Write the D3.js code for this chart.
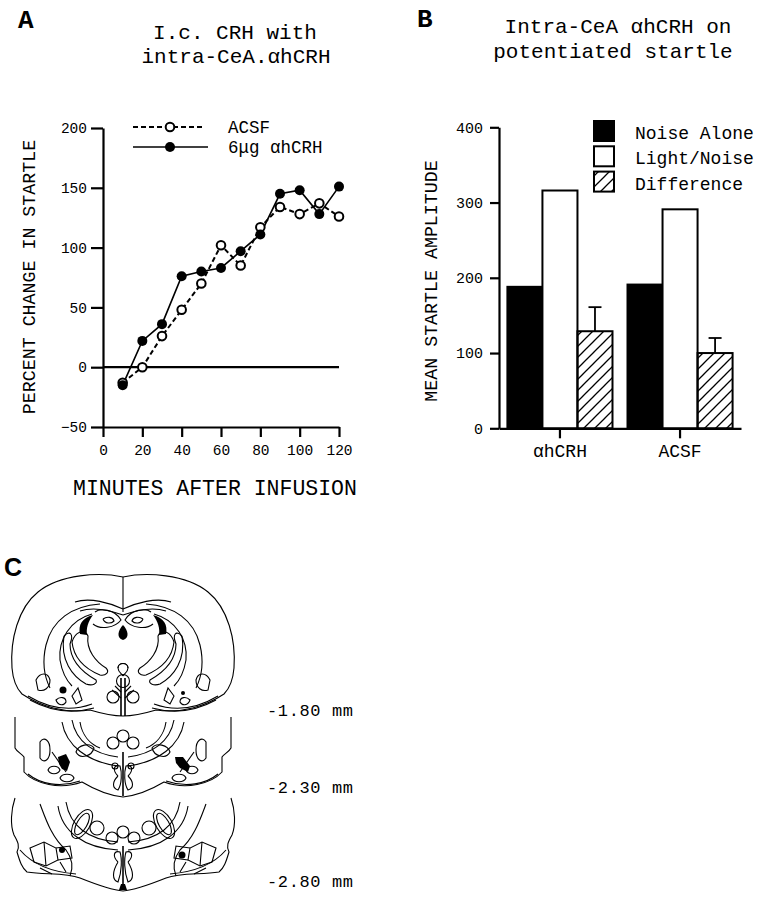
<!DOCTYPE html>
<html>
<head>
<meta charset="utf-8">
<script src="https://cdn.jsdelivr.net/npm/d3@7"></script>
<style>
  body { margin: 0; background: #fff; }
  svg text { font-family: "Liberation Mono", "Courier New", monospace; fill: #000; }
</style>
</head>
<body>
<div id="svgcontainer"></div>
<script>
// ---------- panel A data ----------
const minutes = [10, 20, 30, 40, 50, 60, 70, 80, 90, 100, 110, 120]
const acsf = [-13, 0, 26, 48, 70, 102, 85, 117, 134, 128, 137, 126]
const crh = [-15, 22, 36, 76, 80, 83, 97, 111, 145, 148, 128, 151]
const xTicksA = [0, 20, 40, 60, 80, 100, 120]
const yTicksA = [-50, 0, 50, 100, 150, 200]

// ---------- panel B data ----------
const groups = ['αhCRH', 'ACSF']
const seriesNames = ['Noise Alone', 'Light/Noise', 'Difference']
const noiseAlone = [188, 191]
const lightNoise = [316, 291]
const difference = [129, 100]
const differenceErr = [32, 20]
const yTicksB = [0, 100, 200, 300, 400]

// ---------- panel C labels ----------
const depths = ['-1.80 mm', '-2.30 mm', '-2.80 mm']

const width = 763, height = 899

const svg = d3.select('#svgcontainer')
    .append('svg')
    .attr('width', width)
    .attr('height', height)

// hatch pattern for the difference bars
svg.append('defs').append('pattern')
    .attr('id', 'hatch')
    .attr('patternUnits', 'userSpaceOnUse')
    .attr('width', 11)
    .attr('height', 11)
    .append('path')
    .attr('d', 'M-3,3 L3,-3 M0,11 L11,0 M8,14 L14,8')
    .attr('stroke', '#000')
    .attr('stroke-width', 1.3)

function styleAxis(g, fontSize) {
    g.select('.domain').attr('stroke', '#000').attr('stroke-width', 2.2)
    g.selectAll('.tick line').attr('stroke', '#000').attr('stroke-width', 2.2)
    g.selectAll('.tick text')
        .style('font-family', '"Liberation Mono", monospace')
        .style('font-size', fontSize + 'px')
        .attr('fill', '#000')
}

/*------------------------------------------------------------------------
 *                           Panel A - line chart
 *------------------------------------------------------------------------*/
const xA = d3.scaleLinear().domain([0, 120]).range([103, 339])
const yA = d3.scaleLinear().domain([-50, 200]).range([427, 128])

const gA = svg.append('g').attr('id', 'panelA')

gA.append('text').attr('x', 18).attr('y', 28)
    .style('font-size', '26px').style('font-weight', 'bold').text('A')

gA.append('text').attr('x', 235).attr('y', 39).attr('text-anchor', 'middle')
    .style('font-size', '21px').text('I.c. CRH with')
gA.append('text').attr('x', 236).attr('y', 63).attr('text-anchor', 'middle')
    .style('font-size', '21px').text('intra-CeA.αhCRH')

gA.append('g')
    .attr('transform', 'translate(0,' + yA(-50) + ')')
    .call(d3.axisBottom(xA).tickValues(xTicksA).tickSize(10).tickPadding(8).tickSizeOuter(0))
    .call(g => styleAxis(g, 14.5))

gA.append('g')
    .attr('transform', 'translate(' + xA(0) + ',0)')
    .call(d3.axisLeft(yA).tickValues(yTicksA).tickSize(12).tickPadding(4).tickSizeOuter(0))
    .call(g => styleAxis(g, 14.5))

// zero reference line
gA.append('line')
    .attr('x1', xA(0)).attr('x2', xA(120))
    .attr('y1', yA(0)).attr('y2', yA(0))
    .attr('stroke', '#000').attr('stroke-width', 2.2)

gA.append('text').attr('x', 215).attr('y', 495).attr('text-anchor', 'middle')
    .style('font-size', '21.5px').text('MINUTES AFTER INFUSION')

gA.append('text')
    .attr('transform', 'translate(35,277) rotate(-90)')
    .attr('text-anchor', 'middle')
    .style('font-size', '18.3px').text('PERCENT CHANGE IN STARTLE')

const lineA = d3.line().x((d, i) => xA(minutes[i])).y(d => yA(d))

gA.append('path').datum(acsf)
    .attr('d', lineA).attr('fill', 'none')
    .attr('stroke', '#000').attr('stroke-width', 2).attr('stroke-dasharray', '5,3')
gA.append('path').datum(crh)
    .attr('d', lineA).attr('fill', 'none')
    .attr('stroke', '#000').attr('stroke-width', 1.6)

gA.selectAll('.acsf').data(acsf).enter().append('circle')
    .attr('cx', (d, i) => xA(minutes[i])).attr('cy', d => yA(d)).attr('r', 4.3)
    .attr('fill', '#fff').attr('stroke', '#000').attr('stroke-width', 2)
gA.selectAll('.crh').data(crh).enter().append('circle')
    .attr('cx', (d, i) => xA(minutes[i])).attr('cy', d => yA(d)).attr('r', 5)
    .attr('fill', '#000')

// legend A
const legA = gA.append('g')
legA.append('line').attr('x1', 133).attr('x2', 203).attr('y1', 127).attr('y2', 127)
    .attr('stroke', '#000').attr('stroke-width', 2).attr('stroke-dasharray', '5,3')
legA.append('circle').attr('cx', 170).attr('cy', 127).attr('r', 4.3)
    .attr('fill', '#fff').attr('stroke', '#000').attr('stroke-width', 2)
legA.append('line').attr('x1', 133).attr('x2', 208).attr('y1', 147).attr('y2', 147)
    .attr('stroke', '#000').attr('stroke-width', 1.6)
legA.append('circle').attr('cx', 170).attr('cy', 147).attr('r', 5).attr('fill', '#000')
legA.append('text').attr('x', 228).attr('y', 133).style('font-size', '17.5px').text('ACSF')
legA.append('text').attr('x', 228).attr('y', 153).style('font-size', '17.5px')
    .attr('xml:space', 'preserve').text('6μg αhCRH')

/*------------------------------------------------------------------------
 *                           Panel B - bar chart
 *------------------------------------------------------------------------*/
const xB = d3.scaleBand().domain(groups).range([499, 741]).paddingInner(0.125).paddingOuter(0.07)
const xSub = d3.scaleBand().domain(seriesNames).range([0, xB.bandwidth()])
const yB = d3.scaleLinear().domain([0, 400]).range([428.3, 127.3])

const gB = svg.append('g').attr('id', 'panelB')

gB.append('text').attr('x', 417).attr('y', 27)
    .style('font-size', '26px').style('font-weight', 'bold').text('B')

gB.append('text').attr('x', 618).attr('y', 33).attr('text-anchor', 'middle')
    .style('font-size', '21px').text('Intra-CeA αhCRH on')
gB.append('text').attr('x', 613).attr('y', 58).attr('text-anchor', 'middle')
    .style('font-size', '21px').text('potentiated startle')

const barRows = []
groups.forEach((g, i) => {
    barRows.push({ group: g, series: seriesNames[0], value: noiseAlone[i], fill: '#000' })
    barRows.push({ group: g, series: seriesNames[1], value: lightNoise[i], fill: '#fff' })
    barRows.push({ group: g, series: seriesNames[2], value: difference[i], fill: 'url(#hatch)', err: differenceErr[i] })
})

// error bars (drawn behind the bars)
barRows.filter(d => d.err).forEach(d => {
    const cx = xB(d.group) + xSub(d.series) + xSub.bandwidth() / 2
    gB.append('line').attr('x1', cx).attr('x2', cx)
        .attr('y1', yB(d.value)).attr('y2', yB(d.value + d.err))
        .attr('stroke', '#000').attr('stroke-width', 1.8)
    gB.append('line').attr('x1', cx - 6.5).attr('x2', cx + 6.5)
        .attr('y1', yB(d.value + d.err)).attr('y2', yB(d.value + d.err))
        .attr('stroke', '#000').attr('stroke-width', 1.8)
})

gB.selectAll('rect.bar').data(barRows).enter().append('rect')
    .attr('class', 'bar')
    .attr('x', d => xB(d.group) + xSub(d.series))
    .attr('y', d => yB(d.value))
    .attr('width', xSub.bandwidth())
    .attr('height', d => yB(0) - yB(d.value))
    .attr('fill', d => d.fill)
    .attr('stroke', '#000')
    .attr('stroke-width', 2)

gB.append('g')
    .attr('transform', 'translate(0,' + yB(0) + ')')
    .call(d3.axisBottom(xB).tickSize(10).tickPadding(6).tickSizeOuter(0))
    .call(g => styleAxis(g, 18))

gB.append('g')
    .attr('transform', 'translate(499,0)')
    .call(d3.axisLeft(yB).tickValues(yTicksB).tickSize(9).tickPadding(7).tickSizeOuter(0))
    .call(g => styleAxis(g, 15))

gB.append('text')
    .attr('transform', 'translate(437,281) rotate(-90)')
    .attr('text-anchor', 'middle')
    .style('font-size', '18.3px').text('MEAN STARTLE AMPLITUDE')

// legend B
const legFills = ['#000', '#fff', 'url(#hatch)']
seriesNames.forEach((s, i) => {
    gB.append('rect').attr('x', 594).attr('y', 121 + i * 25.3).attr('width', 20).attr('height', 20)
        .attr('fill', legFills[i]).attr('stroke', '#000').attr('stroke-width', 2)
    gB.append('text').attr('x', 635).attr('y', 139 + i * 25.3)
        .style('font-size', '18px').text(s)
})

/*------------------------------------------------------------------------
 *                     Panel C - coronal sections (schematic)
 *------------------------------------------------------------------------*/
const gC = svg.append('g').attr('id', 'panelC')

gC.append('text').attr('x', 4).attr('y', 576)
    .style('font-family', '"Liberation Sans", Arial, sans-serif')
    .style('font-size', '25px').style('font-weight', 'bold').text('C')

// left-half outlines, mirrored around the midline x = 123
const halfPaths = [
    // section 1
    'M123,577 C100,572 60,574 38,592 C18,608 10,640 12,668 C13,680 16,688 22,694 C40,706 65,714 90,710 C100,713 110,716 123,716',
    'M75,602 C90,597 110,603 123,609',
    'M80,611 C95,606 112,611 123,615',
    'M100,604 C72,606 52,620 46,645 C42,662 44,676 50,688',
    'M92,614 C70,620 58,640 60,660 C62,672 66,680 72,686',
    'M95,612 C100,608 115,609 121,620 C115,628 100,630 93,624',
    'M103,619 C107,616 113,617 114,621 C111,624 105,624 103,619',
    'M72,642 C75,632 84,628 88,636 C86,650 96,662 106,668 C110,672 106,676 100,675 C88,670 74,660 72,642',
    'M64,636 C70,630 74,634 70,644 C70,660 82,672 96,680 C98,684 92,686 86,684 C72,676 60,660 64,636',
    'M118,668 C118,662 128,662 128,668 C128,672 124,674 123,676',
    'M121,678 L121,716 M125,678 L125,716',
    'M115,686 L121,692 M112,690 L121,698',
    'M36,680 C40,672 48,672 50,680 C50,688 44,692 38,690 Z',
    'M28,696 C48,708 70,712 92,704',
    'M30,700 C50,711 72,714 94,708',
    'M56,700 C60,696 66,697 66,702 C64,706 58,706 56,700 Z',
    'M72,696 L78,688 L82,700 L76,704 Z',
    // section 2
    'M15,717 L15,748 C17,752 22,754 24,757 L24,772 C35,784 60,790 82,782 C92,788 105,795 123,797',
    'M62,722 C66,746 88,762 118,766',
    'M72,720 C76,742 94,754 118,757',
    'M80,722 C82,735 90,744 100,748',
    'M76,752 C78,745 90,742 94,748 C92,756 80,760 76,752 Z',
    'M40,742 C44,736 50,740 50,750 C50,760 44,764 40,758 Z',
    'M48,770 C50,765 58,765 60,770 C58,775 50,775 48,770 Z',
    'M60,778 C62,773 72,773 74,778 C72,783 62,783 60,778 Z',
    'M118,776 C112,770 114,764 120,766 C122,772 122,784 118,790 C112,788 112,782 118,776',
    'M123,752 L123,796',
    'M112,766 C112,762 118,762 118,766 C118,770 112,770 112,766 Z',
    'M28,774 C40,784 60,788 80,781',
    'M52,752 L66,772',
    // section 3
    'M15,798 C11,810 10,825 14,835 C18,842 20,846 17,852 C20,862 22,868 27,872 C45,875 65,872 80,878 C95,884 110,890 123,891',
    'M58,806 C62,832 84,848 118,850',
    'M66,802 C70,826 88,840 118,842',
    'M40,804 C46,820 52,838 66,850 C72,858 74,866 70,876',
    'M20,850 C32,864 52,872 76,874',
    'M30,848 L44,842 L56,848 L58,860 L46,866 L34,862 Z',
    'M44,842 L46,866 M56,848 L70,846 L72,858 L58,860',
    'M40,868 L52,874 M60,862 L66,872',
    'M118,862 C112,856 114,850 120,852 C122,858 122,872 118,882 C112,880 112,872 118,862',
    'M123,846 L123,888'
]

const mirrored = [
    gC.append('g'),
    gC.append('g').attr('transform', 'translate(246,0) scale(-1,1)')
]
mirrored.forEach(g => {
    halfPaths.forEach(p => {
        g.append('path').attr('d', p).attr('fill', 'none')
            .attr('stroke', '#000').attr('stroke-width', 1.1)
    })
    // round structures near the midline
    const circles = [[113, 697, 6], [113, 743, 6], [112, 838, 6], [97, 828, 7]]
    circles.forEach(c => {
        g.append('circle').attr('cx', c[0]).attr('cy', c[1]).attr('r', c[2])
            .attr('fill', 'none').attr('stroke', '#000').attr('stroke-width', 1.1)
    })
    g.append('ellipse').attr('cx', 82).attr('cy', 824).attr('rx', 8).attr('ry', 16)
        .attr('transform', 'rotate(30,82,824)')
        .attr('fill', 'none').attr('stroke', '#000').attr('stroke-width', 1.1)
    g.append('ellipse').attr('cx', 82).attr('cy', 824).attr('rx', 5).attr('ry', 12)
        .attr('transform', 'rotate(30,82,824)')
        .attr('fill', 'none').attr('stroke', '#000').attr('stroke-width', 1.1)
    // black lateral crescent
    g.append('path').attr('d', 'M80,634 C78,625 82,618 93,615 C88,622 86,628 87,635 Z').attr('fill', '#000')
})

// single midline structures
gC.append('circle').attr('cx', 123).attr('cy', 681).attr('r', 6.5)
    .attr('fill', 'none').attr('stroke', '#000').attr('stroke-width', 1.1)
gC.append('circle').attr('cx', 123).attr('cy', 736).attr('r', 6)
    .attr('fill', 'none').attr('stroke', '#000').attr('stroke-width', 1.1)
gC.append('circle').attr('cx', 123).attr('cy', 832).attr('r', 6)
    .attr('fill', 'none').attr('stroke', '#000').attr('stroke-width', 1.1)
gC.append('line').attr('x1', 123).attr('x2', 123).attr('y1', 577).attr('y2', 612)
    .attr('stroke', '#000').attr('stroke-width', 1.1)

// infusion sites (black)
const blobs = [
    'M123,625 C128,630 130,638 123,640 C116,638 118,630 123,625 Z',
    'M58,757 L66,754 L70,762 L67,771 L62,769 L59,764 Z',
    'M175,757 L183,757 L190,766 L188,772 L180,768 L176,763 Z',
    'M121,884 L125,884 L127,890 L119,890 Z'
]
blobs.forEach(p => gC.append('path').attr('d', p).attr('fill', '#000'))
const dots = [[63, 690, 3.5], [183, 693, 2], [62, 850, 3], [182, 855, 3.5]]
dots.forEach(d => gC.append('circle').attr('cx', d[0]).attr('cy', d[1]).attr('r', d[2]).attr('fill', '#000'))

const depthY = [716, 793, 887]
depths.forEach((t, i) => {
    gC.append('text').attr('x', 267).attr('y', depthY[i])
        .attr('textLength', 86).attr('lengthAdjust', 'spacing')
        .style('font-size', '17px').text(t)
})
</script>
</body>
</html>
